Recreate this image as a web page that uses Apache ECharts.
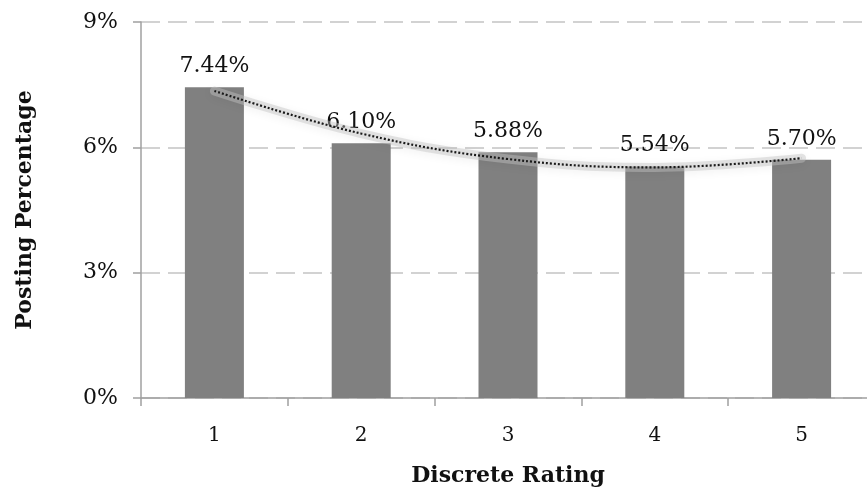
<!DOCTYPE html>
<html>
<head>
<meta charset="utf-8">
<script src="https://cdn.jsdelivr.net/npm/echarts@6/dist/echarts.min.js"></script>
<style>
  html, body { margin: 0; padding: 0; background: #fff; }
  #chart { width: 867px; height: 493px; }
</style>
</head>
<body>
<div id="chart"></div>
<script>
// Posting percentage by discrete rating
const ratings = ['1', '2', '3', '4', '5'];
const postingPct = [7.44, 6.10, 5.88, 5.54, 5.70];
// Polynomial (2nd order) trendline values at each rating
const trendPct = [7.35, 6.33, 5.72, 5.52, 5.74];
const yTicks = [0, 3, 6, 9];

const serif = '"DejaVu Serif", "Liberation Serif", serif';

const chart = echarts.init(document.getElementById('chart'), null, { renderer: 'canvas' });

chart.setOption({
  animation: false,
  backgroundColor: '#ffffff',
  grid: {
    left: 141, top: 22, width: 734, height: 376,
    containLabel: false,
    outerBoundsMode: 'none'
  },
  xAxis: {
    type: 'category',
    data: ratings,
    boundaryGap: true,
    name: 'Discrete Rating',
    nameLocation: 'middle',
    nameGap: 67,
    nameTextStyle: { fontFamily: serif, fontWeight: 'bold', fontSize: 22, color: '#111' },
    axisLine: { lineStyle: { color: '#a0a0a0', width: 1.5 } },
    axisTick: { show: true, length: 8, lineStyle: { color: '#a0a0a0', width: 1.5 } },
    axisLabel: { fontFamily: serif, fontSize: 20, color: '#111', margin: 28 }
  },
  yAxis: {
    type: 'value',
    min: yTicks[0],
    max: yTicks[yTicks.length - 1],
    interval: 3,
    name: 'Posting Percentage',
    nameLocation: 'middle',
    nameGap: 105,
    nameTextStyle: { fontFamily: serif, fontWeight: 'bold', fontSize: 22, color: '#111' },
    axisLine: { show: true, lineStyle: { color: '#a0a0a0', width: 1.5 } },
    axisTick: { show: true, length: 8, lineStyle: { color: '#a0a0a0', width: 1.5 } },
    axisLabel: { fontFamily: serif, fontSize: 22, color: '#111', margin: 23, formatter: '{value}%' },
    splitLine: { show: true, lineStyle: { color: '#c4c4c4', width: 1.5, type: [19, 8] } }
  },
  series: [
    {
      name: 'Posting Percentage',
      type: 'bar',
      data: postingPct,
      barWidth: 59,
      z: 2,
      itemStyle: { color: '#808080' },
      label: {
        show: true,
        position: 'top',
        distance: 10,
        fontFamily: serif,
        fontSize: 22,
        color: '#111',
        formatter: p => p.value.toFixed(2) + '%'
      }
    },
    {
      name: 'Trend glow',
      type: 'line',
      data: trendPct,
      smooth: 0.4,
      symbol: 'none',
      z: 3,
      silent: true,
      lineStyle: {
        color: 'rgba(195,195,195,0.45)',
        width: 9,
        cap: 'round',
        shadowBlur: 10,
        shadowColor: 'rgba(0,0,0,0.12)',
        shadowOffsetY: 2
      }
    },
    {
      name: 'Trend',
      type: 'line',
      data: trendPct,
      smooth: 0.4,
      symbol: 'none',
      z: 4,
      silent: true,
      lineStyle: { color: '#1a1a1a', width: 2.2, type: [2, 2] }
    }
  ]
});
</script>
</body>
</html>
